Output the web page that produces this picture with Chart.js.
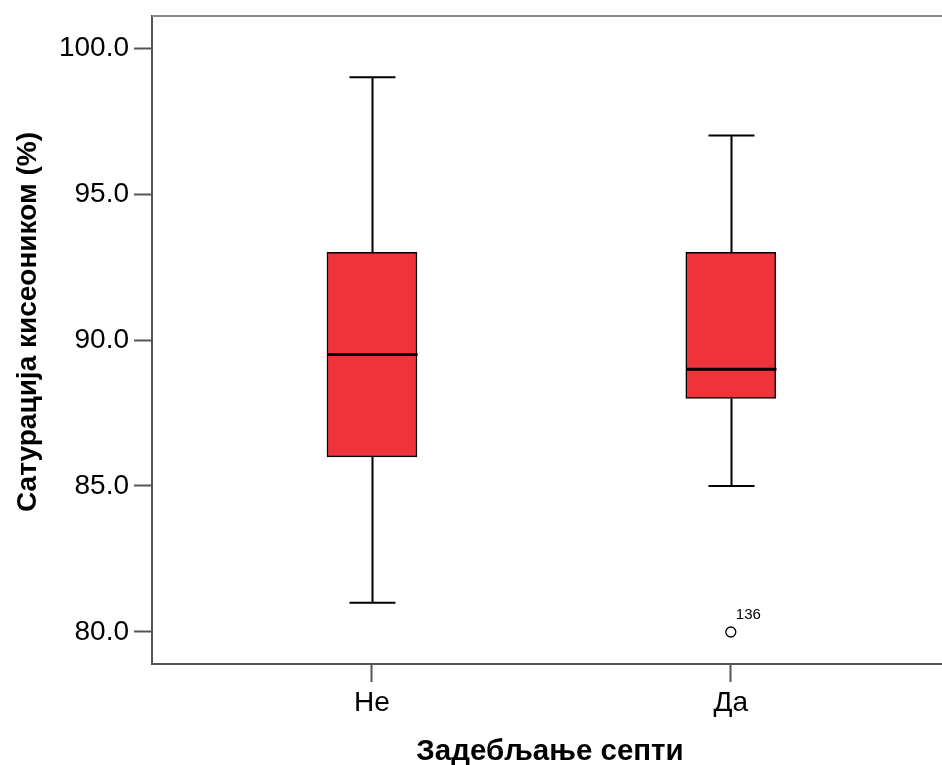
<!DOCTYPE html>
<html>
<head>
<meta charset="utf-8">
<script src="https://cdn.jsdelivr.net/npm/chart.js@4/dist/chart.umd.min.js"></script>
<style>
  html, body { margin: 0; padding: 0; background: #fff; overflow: hidden; }
  #wrap { width: 942px; height: 765px; position: relative; }
</style>
</head>
<body>
<div id="wrap"><canvas id="c" width="942" height="765"></canvas></div>
<script>
// Oxygen saturation by septal thickening: five-number summaries per group
const categories = ['Не', 'Да'];
const whiskerLow = [81, 85];
const quartile1 = [86, 88];
const median = [89.5, 89];
const quartile3 = [93, 93];
const whiskerHigh = [99, 97];

// Outliers: group position (1-based), value, case number
const outlierGroup = [2];
const outlierValue = [80];
const outlierCase = ['136'];

const yTicks = [80, 85, 90, 95, 100];
const xTitle = 'Задебљање септи';
const yTitle = 'Сатурација кисеоником (%)';

const FONT = '"Liberation Sans", Arial, sans-serif';
const BOX_FILL = '#EF333A';
const BOX_PX = 90;
const CAP_PX = 46;

// Whiskers, caps, medians, frame, outlier labels and axis titles
const boxExtras = {
  id: 'boxExtras',
  afterDatasetsDraw(chart) {
    const ctx = chart.ctx;
    const xs = chart.scales.x, ys = chart.scales.y;
    const area = chart.chartArea;
    ctx.save();
    categories.forEach((c, i) => {
      const cx = Math.round(xs.getPixelForValue(i + 1)) + 0.5;
      const yLo = ys.getPixelForValue(whiskerLow[i]);
      const yQ1 = ys.getPixelForValue(quartile1[i]);
      const yQ3 = ys.getPixelForValue(quartile3[i]);
      const yHi = ys.getPixelForValue(whiskerHigh[i]);
      const yMed = ys.getPixelForValue(median[i]);
      ctx.strokeStyle = '#000';
      ctx.lineWidth = 2;
      ctx.beginPath();
      ctx.moveTo(cx, yQ3); ctx.lineTo(cx, yHi);
      ctx.moveTo(cx, yQ1); ctx.lineTo(cx, yLo);
      ctx.stroke();
      ctx.beginPath();
      ctx.moveTo(cx - CAP_PX / 2, yHi); ctx.lineTo(cx + CAP_PX / 2, yHi);
      ctx.moveTo(cx - CAP_PX / 2, yLo); ctx.lineTo(cx + CAP_PX / 2, yLo);
      ctx.stroke();
      ctx.lineWidth = 3;
      ctx.beginPath();
      ctx.moveTo(cx - BOX_PX / 2, yMed); ctx.lineTo(cx + BOX_PX / 2, yMed);
      ctx.stroke();
    });

    // outlier case labels
    ctx.fillStyle = '#000';
    ctx.font = '15px ' + FONT;
    ctx.textAlign = 'left';
    ctx.textBaseline = 'alphabetic';
    outlierValue.forEach((v, k) => {
      const px = xs.getPixelForValue(outlierGroup[k]);
      const py = ys.getPixelForValue(v);
      ctx.fillText(outlierCase[k], px + 5, py - 13);
    });

    // top frame line, and the bottom axis carried to the canvas edge
    ctx.strokeStyle = '#888';
    ctx.lineWidth = 2;
    ctx.beginPath();
    ctx.moveTo(area.left, area.top);
    ctx.lineTo(chart.width, area.top);
    ctx.stroke();
    ctx.strokeStyle = '#555';
    ctx.beginPath();
    ctx.moveTo(area.right - 1, area.bottom);
    ctx.lineTo(chart.width, area.bottom);
    ctx.stroke();

    // axis titles
    ctx.fillStyle = '#000';
    ctx.textAlign = 'center';
    ctx.textBaseline = 'alphabetic';
    ctx.font = 'bold 29.5px ' + FONT;
    ctx.fillText(xTitle, 550, 760);
    ctx.font = 'bold 28px ' + FONT;
    ctx.translate(36, 322);
    ctx.rotate(-Math.PI / 2);
    ctx.fillText(yTitle, 0, 0);
    ctx.restore();
  }
};

new Chart(document.getElementById('c'), {
  type: 'bar',
  data: {
    datasets: [
      {
        type: 'bar',
        data: categories.map((c, i) => ({ x: i + 1, y: [quartile1[i], quartile3[i]] })),
        backgroundColor: BOX_FILL,
        borderColor: '#000',
        borderWidth: 1.5,
        borderSkipped: false,
        barThickness: BOX_PX
      },
      {
        type: 'scatter',
        data: outlierValue.map((v, k) => ({ x: outlierGroup[k], y: v })),
        pointStyle: 'circle',
        pointRadius: 5,
        backgroundColor: '#fff',
        borderColor: '#000',
        borderWidth: 1.3
      }
    ]
  },
  options: {
    responsive: false,
    animation: false,
    devicePixelRatio: 1,
    layout: { padding: { top: 16, right: 0, left: 0, bottom: 0 } },
    plugins: { legend: { display: false }, tooltip: { enabled: false } },
    scales: {
      x: {
        type: 'linear',
        offset: false,
        min: 0.387,
        max: 2.571,
        afterBuildTicks: (s) => { s.ticks = categories.map((c, i) => ({ value: i + 1 })); },
        afterFit: (s) => { s.height = 101; s.paddingLeft = 0; s.paddingRight = 0; },
        ticks: {
          callback: (v) => categories[v - 1],
          font: { family: FONT, size: 28 },
          color: '#000',
          padding: 4,
          maxRotation: 0
        },
        grid: { offset: false, drawOnChartArea: false, tickLength: 18, tickColor: '#555', tickWidth: 2 },
        border: { display: true, color: '#555', width: 2 }
      },
      y: {
        type: 'linear',
        min: 78.904,
        max: 101.096,
        afterBuildTicks: (s) => { s.ticks = yTicks.map(v => ({ value: v })); },
        afterFit: (s) => { s.width = 152; s.paddingTop = 0; s.paddingBottom = 0; },
        ticks: {
          callback: (v) => Number(v).toFixed(1),
          font: { family: FONT, size: 28 },
          color: '#000',
          padding: 5
        },
        grid: { drawOnChartArea: false, tickLength: 18, tickColor: '#555', tickWidth: 2 },
        border: { display: true, color: '#555', width: 2 }
      }
    }
  },
  plugins: [boxExtras]
});
</script>
</body>
</html>
